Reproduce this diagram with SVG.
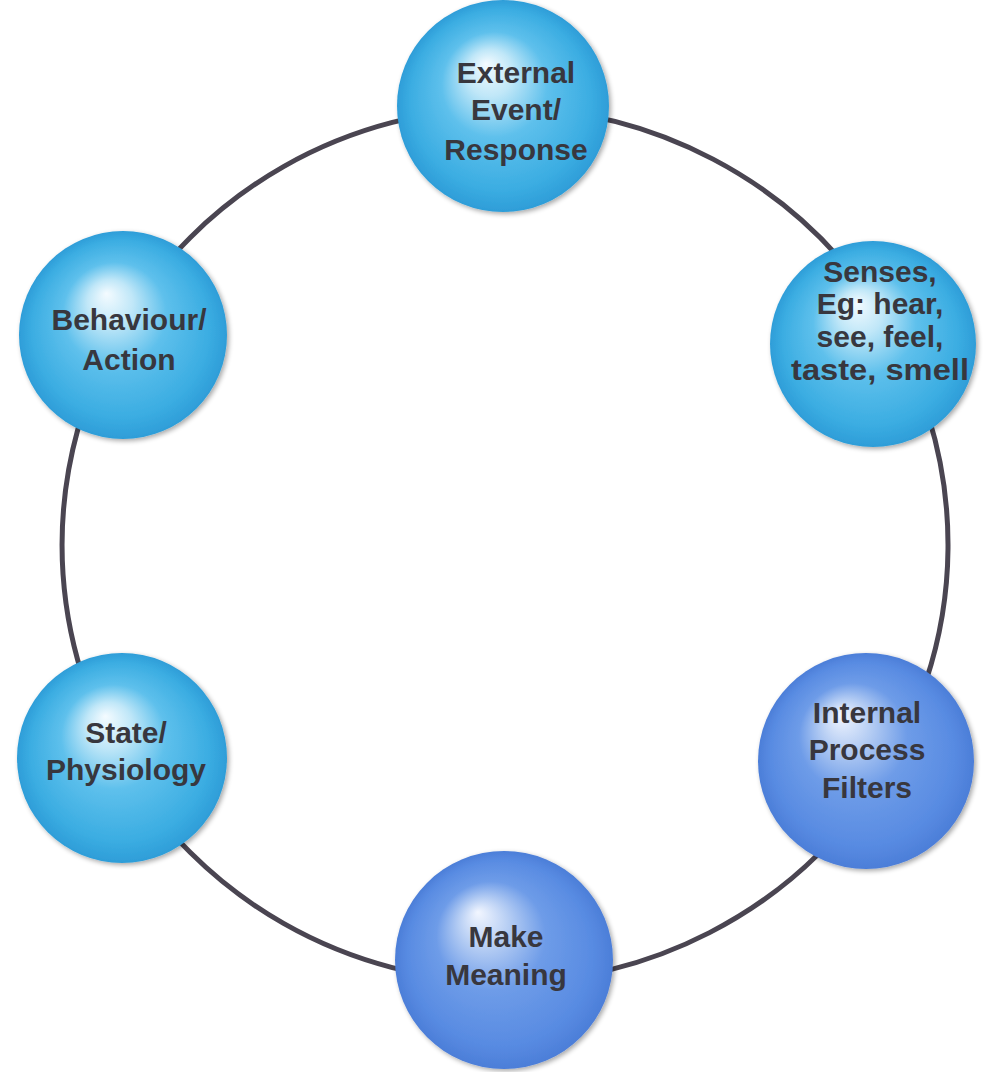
<svg xmlns="http://www.w3.org/2000/svg" width="986" height="1072" viewBox="0 0 986 1072">
  <defs>
    <radialGradient id="cyanBall" cx="0.5" cy="0.5" r="0.5" fx="0.42" fy="0.3">
      <stop offset="0" stop-color="#f4fbff"/>
      <stop offset="0.22" stop-color="#c0e7f8"/>
      <stop offset="0.5" stop-color="#5ec0ec"/>
      <stop offset="0.85" stop-color="#3badE2"/>
      <stop offset="1" stop-color="#2e9dd8"/>
    </radialGradient>
    <radialGradient id="blueBall" cx="0.5" cy="0.5" r="0.5" fx="0.38" fy="0.28">
      <stop offset="0" stop-color="#f2f6ff"/>
      <stop offset="0.22" stop-color="#b8cff4"/>
      <stop offset="0.5" stop-color="#6e9ce8"/>
      <stop offset="0.85" stop-color="#588be2"/>
      <stop offset="1" stop-color="#4c7ed8"/>
    </radialGradient>
    <filter id="soft" x="-10%" y="-10%" width="125%" height="125%">
      <feGaussianBlur in="SourceAlpha" stdDeviation="2.5"/>
      <feOffset dx="1.5" dy="2" result="b"/>
      <feComponentTransfer><feFuncA type="linear" slope="0.35"/></feComponentTransfer>
      <feMerge><feMergeNode/><feMergeNode in="SourceGraphic"/></feMerge>
    </filter>
  </defs>
  <style>
    .link { fill: none; stroke: #4a4551; stroke-width: 5; stroke-linecap: round; }
    .ball { filter: url(#soft); }
    .cyan { fill: url(#cyanBall); }
    .blue { fill: url(#blueBall); }
    .label { font-family: "Liberation Sans", Arial, sans-serif; font-weight: bold; font-size: 30px; fill: #38373e; text-anchor: middle; }
  </style>

  <rect width="986" height="1072" fill="#ffffff"/>

  <!-- cycle ring, one arc per step -->
  <g id="connectors">
    <path class="link" d="M505,108 A443,437 0 0 1 872.3,300.6"/>
    <path class="link" d="M872.3,300.6 A443,437 0 0 1 867.9,795.6"/>
    <path class="link" d="M867.9,795.6 A443,437 0 0 1 505,982"/>
    <path class="link" d="M505,982 A443,437 0 0 1 121.4,763.5"/>
    <path class="link" d="M121.4,763.5 A443,437 0 0 1 121.4,326.5"/>
    <path class="link" d="M121.4,326.5 A443,437 0 0 1 505,108"/>
  </g>

  <g id="external-event">
    <circle class="ball cyan" cx="503" cy="106" r="106"/>
    <text class="label"><tspan x="516" y="83">External</tspan><tspan x="516" y="120">Event/</tspan><tspan x="516" y="160">Response</tspan></text>
  </g>

  <g id="senses">
    <circle class="ball cyan" cx="873" cy="344" r="103"/>
    <text class="label"><tspan x="880" y="282">Senses,</tspan><tspan x="880" y="314">Eg: hear,</tspan><tspan x="880" y="347">see, feel,</tspan><tspan x="880" y="380" textLength="178" lengthAdjust="spacingAndGlyphs">taste, smell</tspan></text>
  </g>

  <g id="internal-process">
    <circle class="ball blue" cx="866" cy="761" r="108"/>
    <text class="label"><tspan x="867" y="723">Internal</tspan><tspan x="867" y="760">Process</tspan><tspan x="867" y="798">Filters</tspan></text>
  </g>

  <g id="make-meaning">
    <circle class="ball blue" cx="504" cy="960" r="109"/>
    <text class="label"><tspan x="506" y="947">Make</tspan><tspan x="506" y="985">Meaning</tspan></text>
  </g>

  <g id="state-physiology">
    <circle class="ball cyan" cx="122" cy="758" r="105"/>
    <text class="label"><tspan x="126" y="743">State/</tspan><tspan x="126" y="780">Physiology</tspan></text>
  </g>

  <g id="behaviour-action">
    <circle class="ball cyan" cx="123" cy="335" r="104"/>
    <text class="label"><tspan x="129" y="330">Behaviour/</tspan><tspan x="129" y="370">Action</tspan></text>
  </g>
</svg>
